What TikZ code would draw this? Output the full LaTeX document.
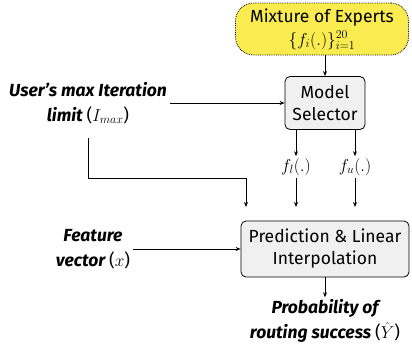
\documentclass[tikz,border=0pt]{standalone}
\usepackage{fontspec}
\setmainfont{Fira Sans}
\usetikzlibrary{arrows.meta}
\definecolor{moeyellow}{RGB}{250,236,80}
\definecolor{boxgray}{RGB}{240,240,240}
\begin{document}
\begin{tikzpicture}[x=1pt,y=-1pt,
  every node/.style={font=\fontsize{17.5}{22}\selectfont, align=center},
  arr/.style={-{Stealth[length=5pt,width=4pt]}, thick},
  procbox/.style={draw, thick, fill=boxgray, rounded corners=5pt},
  lbl/.style={font=\fontsize{17.5}{25}\selectfont\bfseries\itshape}]
\useasboundingbox (0,0) rectangle (412,354);
\node[draw, densely dotted, thick, fill=moeyellow, rounded corners=18pt,
      minimum width=173, minimum height=52, inner sep=1pt] (moe) at (322,29)
  {Mixture of Experts\\[1pt] $\{f_i(.)\}_{i=1}^{20}$};
\node[procbox, minimum width=80, minimum height=53, inner sep=1pt] (sel) at (325,103) {Model\\Selector};
\node[procbox, minimum width=168, minimum height=56, inner sep=1pt] (pred) at (325,249) {Prediction \& Linear\\Interpolation};
\node[lbl, inner sep=3pt] (user) at (88,103) {User’s max Iteration\\limit {\normalfont($I_{max}$)}};
\node[lbl, inner sep=3pt] (feat) at (93,249) {Feature\\vector {\normalfont($x$)}};
\node[inner sep=2pt] (fl) at (296,167) {$f_l(.)$};
\node[inner sep=2pt] (fu) at (355,167) {$f_u(.)$};
\node[lbl, inner sep=2pt] (prob) at (325,321) {Probability of\\routing success {\normalfont($\hat{Y}$)}};
\coordinate (c1) at (88,178);
\coordinate (c2) at (246,178);
\coordinate (t0) at (246,207);
\coordinate (t1) at (296,207);
\coordinate (t2) at (355,207);
\coordinate (us) at (88,138);
\draw[arr] (sel.north |- moe.south) -- (sel.north);
\draw[arr] (user.east |- sel.west) -- (sel.west);
\draw[arr] (us) -- (c1) -- (c2) -- (t0);
\draw[arr] (sel.south -| fl) -- (fl.north);
\draw[arr] (sel.south -| fu) -- (fu.north);
\draw[arr] (fl.south) -- (t1);
\draw[arr] (fu.south) -- (t2);
\draw[arr] (feat.east) -- (pred.west);
\draw[arr] (pred.south) -- (prob.north);
\end{tikzpicture}
\end{document}
